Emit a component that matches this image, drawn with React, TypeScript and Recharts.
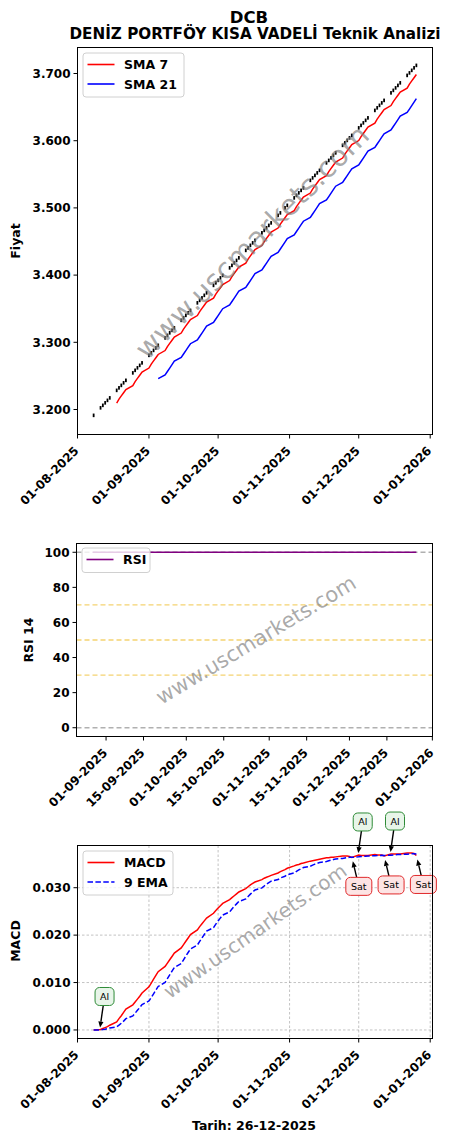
import React from 'react';
import { ComposedChart, LineChart, Line, XAxis, YAxis, CartesianGrid, ReferenceLine, ReferenceDot } from 'recharts';

// işlem günleri (29-10 resmi tatil)
const DATES = [
  '2025-08-08',
  '2025-08-11', '2025-08-12', '2025-08-13', '2025-08-14', '2025-08-15',
  '2025-08-18', '2025-08-19', '2025-08-20', '2025-08-21', '2025-08-22',
  '2025-08-25', '2025-08-26', '2025-08-27', '2025-08-28', '2025-08-29',
  '2025-09-01', '2025-09-02', '2025-09-03', '2025-09-04', '2025-09-05',
  '2025-09-08', '2025-09-09', '2025-09-10', '2025-09-11', '2025-09-12',
  '2025-09-15', '2025-09-16', '2025-09-17', '2025-09-18', '2025-09-19',
  '2025-09-22', '2025-09-23', '2025-09-24', '2025-09-25', '2025-09-26',
  '2025-09-29', '2025-09-30', '2025-10-01', '2025-10-02', '2025-10-03',
  '2025-10-06', '2025-10-07', '2025-10-08', '2025-10-09', '2025-10-10',
  '2025-10-13', '2025-10-14', '2025-10-15', '2025-10-16', '2025-10-17',
  '2025-10-20', '2025-10-21', '2025-10-22', '2025-10-23', '2025-10-24',
  '2025-10-27', '2025-10-28', '2025-10-30', '2025-10-31',
  '2025-11-03', '2025-11-04', '2025-11-05', '2025-11-06', '2025-11-07',
  '2025-11-10', '2025-11-11', '2025-11-12', '2025-11-13', '2025-11-14',
  '2025-11-17', '2025-11-18', '2025-11-19', '2025-11-20', '2025-11-21',
  '2025-11-24', '2025-11-25', '2025-11-26', '2025-11-27', '2025-11-28',
  '2025-12-01', '2025-12-02', '2025-12-03', '2025-12-04', '2025-12-05',
  '2025-12-08', '2025-12-09', '2025-12-10', '2025-12-11', '2025-12-12',
  '2025-12-15', '2025-12-16', '2025-12-17', '2025-12-18', '2025-12-19',
  '2025-12-22', '2025-12-23', '2025-12-24', '2025-12-25', '2025-12-26',
];

const PRICE = [
  3.1910,
  3.2022, 3.2059, 3.2096, 3.2133, 3.2170,
  3.2282, 3.2319, 3.2356, 3.2394, 3.2431,
  3.2542, 3.2580, 3.2617, 3.2654, 3.2691,
  3.2803, 3.2840, 3.2877, 3.2914, 3.2952,
  3.3063, 3.3100, 3.3138, 3.3175, 3.3212,
  3.3324, 3.3361, 3.3398, 3.3435, 3.3472,
  3.3584, 3.3621, 3.3658, 3.3696, 3.3733,
  3.3844, 3.3882, 3.3919, 3.3956, 3.3993,
  3.4105, 3.4142, 3.4179, 3.4216, 3.4254,
  3.4365, 3.4402, 3.4440, 3.4477, 3.4514,
  3.4626, 3.4663, 3.4700, 3.4737, 3.4774,
  3.4886, 3.4923, 3.4998, 3.5035,
  3.5146, 3.5184, 3.5221, 3.5258, 3.5295,
  3.5407, 3.5444, 3.5481, 3.5518, 3.5556,
  3.5667, 3.5704, 3.5742, 3.5779, 3.5816,
  3.5928, 3.5965, 3.6002, 3.6039, 3.6076,
  3.6188, 3.6225, 3.6262, 3.6300, 3.6337,
  3.6448, 3.6486, 3.6523, 3.6560, 3.6597,
  3.6709, 3.6746, 3.6783, 3.6820, 3.6858,
  3.6969, 3.7006, 3.7044, 3.7081, 3.7118,
];

const SMA7 = [
  null, null, null, null, null, null,
  3.2096, 3.2154, 3.2202, 3.2250, 3.2298,
  3.2356, 3.2415, 3.2463, 3.2510, 3.2558,
  3.2617, 3.2675, 3.2723, 3.2770, 3.2819,
  3.2877, 3.2935, 3.2984, 3.3031, 3.3079,
  3.3138, 3.3196, 3.3244, 3.3291, 3.3339,
  3.3398, 3.3456, 3.3504, 3.3552, 3.3600,
  3.3658, 3.3717, 3.3765, 3.3812, 3.3860,
  3.3919, 3.3977, 3.4025, 3.4072, 3.4121,
  3.4179, 3.4237, 3.4286, 3.4333, 3.4381,
  3.4440, 3.4498, 3.4546, 3.4593, 3.4641,
  3.4700, 3.4758, 3.4854, 3.4902,
  3.4960, 3.5019, 3.5067, 3.5114, 3.5162,
  3.5221, 3.5279, 3.5327, 3.5374, 3.5423,
  3.5481, 3.5539, 3.5588, 3.5635, 3.5683,
  3.5742, 3.5800, 3.5848, 3.5895, 3.5943,
  3.6002, 3.6060, 3.6108, 3.6156, 3.6204,
  3.6262, 3.6321, 3.6369, 3.6416, 3.6464,
  3.6523, 3.6581, 3.6629, 3.6676, 3.6725,
  3.6783, 3.6841, 3.6890, 3.6937, 3.6985,
];

const SMA21 = [
  null, null, null, null, null, null, null, null, null, null,
  null, null, null, null, null, null, null, null, null, null,
  3.2459,
  3.2514, 3.2565, 3.2617, 3.2668, 3.2719,
  3.2775, 3.2826, 3.2877, 3.2928, 3.2979,
  3.3035, 3.3086, 3.3137, 3.3189, 3.3240,
  3.3295, 3.3347, 3.3398, 3.3449, 3.3500,
  3.3556, 3.3607, 3.3658, 3.3709, 3.3761,
  3.3816, 3.3867, 3.3919, 3.3970, 3.4021,
  3.4077, 3.4128, 3.4179, 3.4230, 3.4281,
  3.4337, 3.4388, 3.4491, 3.4542,
  3.4597, 3.4649, 3.4700, 3.4751, 3.4802,
  3.4858, 3.4909, 3.4960, 3.5011, 3.5063,
  3.5118, 3.5169, 3.5221, 3.5272, 3.5323,
  3.5379, 3.5430, 3.5481, 3.5532, 3.5583,
  3.5639, 3.5690, 3.5741, 3.5793, 3.5844,
  3.5899, 3.5951, 3.6002, 3.6053, 3.6104,
  3.6160, 3.6211, 3.6262, 3.6313, 3.6365,
  3.6420, 3.6471, 3.6523, 3.6574, 3.6625,
];

const RSI = [
  null, null, null, null, null, null, null, null, null, null, null, null, null,
  100, 100, 100, 100, 100, 100, 100, 100, 100, 100, 100, 100, 100, 100, 100,
  100, 100, 100, 100, 100, 100, 100, 100, 100, 100, 100, 100, 100, 100, 100,
  100, 100, 100, 100, 100, 100, 100, 100, 100, 100, 100, 100, 100, 100, 100,
  100, 100, 100, 100, 100, 100, 100, 100, 100, 100, 100, 100, 100, 100, 100,
  100, 100, 100, 100, 100, 100, 100, 100, 100, 100, 100, 100, 100, 100, 100,
  100, 100, 100, 100, 100, 100, 100, 100, 100, 100, 100, 100,
];

const MACD = [
  0.0000, 0.0001, 0.0003, 0.0005, 0.0007, 0.0010,
  0.0017, 0.0024, 0.0030, 0.0037, 0.0044,
  0.0053, 0.0059, 0.0065, 0.0071, 0.0078,
  0.0091, 0.0099, 0.0107, 0.0115, 0.0123,
  0.0134, 0.0141, 0.0148, 0.0155, 0.0162,
  0.0173, 0.0180, 0.0187, 0.0194, 0.0201,
  0.0211, 0.0218, 0.0224, 0.0230, 0.0236,
  0.0246, 0.0252, 0.0257, 0.0262, 0.0267,
  0.0275, 0.0279, 0.0283, 0.0287, 0.0291,
  0.0298, 0.0302, 0.0306, 0.0309, 0.0312,
  0.0317, 0.0320, 0.0322, 0.0324, 0.0326,
  0.0331, 0.0334, 0.0338, 0.0341,
  0.0346, 0.0348, 0.0349, 0.0351, 0.0352,
  0.0356, 0.0357, 0.0358, 0.0359, 0.0360,
  0.0363, 0.0363, 0.0364, 0.0364, 0.0365,
  0.0367, 0.0367, 0.0367, 0.0366, 0.0364,
  0.0369, 0.0368, 0.0368, 0.0368, 0.0368,
  0.0370, 0.0369, 0.0369, 0.0369, 0.0367,
  0.0371, 0.0371, 0.0371, 0.0371, 0.0371,
  0.0373, 0.0373, 0.0373, 0.0372, 0.0368,
];

const SIGNAL = [
  0.00000, 0.00002, 0.00008, 0.00016, 0.00027, 0.00042,
  0.00067, 0.00102, 0.00141, 0.00187, 0.00238,
  0.00296, 0.00355, 0.00414, 0.00473, 0.00535,
  0.00610, 0.00686, 0.00763, 0.00840, 0.00918,
  0.01003, 0.01084, 0.01163, 0.01241, 0.01317,
  0.01399, 0.01479, 0.01558, 0.01634, 0.01709,
  0.01789, 0.01868, 0.01942, 0.02014, 0.02083,
  0.02158, 0.02231, 0.02299, 0.02363, 0.02424,
  0.02489, 0.02550, 0.02606, 0.02659, 0.02709,
  0.02763, 0.02814, 0.02864, 0.02909, 0.02951,
  0.02995, 0.03036, 0.03073, 0.03106, 0.03137,
  0.03172, 0.03205, 0.03240, 0.03274,
  0.03311, 0.03345, 0.03374, 0.03401, 0.03425,
  0.03452, 0.03476, 0.03497, 0.03515, 0.03532,
  0.03552, 0.03567, 0.03582, 0.03594, 0.03605,
  0.03618, 0.03628, 0.03637, 0.03641, 0.03641,
  0.03651, 0.03657, 0.03661, 0.03665, 0.03668,
  0.03674, 0.03678, 0.03680, 0.03682, 0.03680,
  0.03686, 0.03691, 0.03695, 0.03698, 0.03700,
  0.03706, 0.03711, 0.03715, 0.03716, 0.03709,
];

const AL_DATES = ['2025-08-11', '2025-12-01', '2025-12-15'];
const SAT_DATES = ['2025-11-28', '2025-12-12', '2025-12-26'];

const MONTH_TICKS = ['2025-08-01', '2025-09-01', '2025-10-01', '2025-11-01', '2025-12-01', '2026-01-01'];
const RSI_DATE_TICKS = [
  '2025-09-01', '2025-09-15', '2025-10-01', '2025-10-15', '2025-11-01',
  '2025-11-15', '2025-12-01', '2025-12-15', '2026-01-01',
];
const PRICE_TICKS = [3.2, 3.3, 3.4, 3.5, 3.6, 3.7];
const RSI_TICKS = [0, 20, 40, 60, 80, 100];
const RSI_LEVELS = [70, 50, 30];
const MACD_TICKS = [0, 0.01, 0.02, 0.03];

const FONT = 'DejaVu Sans';
const DAY = 86400000;
const toT = (s: string) => Date.UTC(+s.slice(0, 4), +s.slice(5, 7) - 1, +s.slice(8, 10));

const fmtDate = (t: number) => {
  const d = new Date(t);
  const dd = String(d.getUTCDate()).padStart(2, '0');
  const mm = String(d.getUTCMonth() + 1).padStart(2, '0');
  return `${dd}-${mm}-${d.getUTCFullYear()}`;
};

const rows = DATES.map((d, i) => ({
  t: toT(d),
  price: PRICE[i],
  sma7: SMA7[i],
  sma21: SMA21[i],
  rsi: RSI[i],
  macd: MACD[i],
  signal: SIGNAL[i],
}));

const mainDomain = [toT('2025-08-01'), toT('2026-01-02')];
const rsiDomain = [toT('2025-08-27') - 6.05 * DAY, toT('2025-12-26') + 6.05 * DAY];

const DateTick = (props: any) => {
  const { x, y, payload } = props;
  return (
    <g transform={`translate(${x + 2},${y + 13})`}>
      <text x={0} y={0} textAnchor="end" transform="rotate(-45)" fontSize={12} fontWeight="bold" fontFamily={FONT} fill="#000">
        {fmtDate(payload.value)}
      </text>
    </g>
  );
};

const yTick = { fontSize: 12, fontWeight: 'bold', fill: '#000', fontFamily: FONT };

const PriceMark = (props: any) => {
  const { cx, cy, index } = props;
  if (cx == null || cy == null || isNaN(cy)) return <g key={index} />;
  return <rect key={index} x={cx - 0.9} y={cy - 2} width={1.8} height={3.6} fill="#000" />;
};

const Annot = ({ cx, cy, kind }: { cx: number; cy: number; kind: string }) => {
  const al = kind === 'Al';
  const bx = cx + (al ? 4 : 7);
  const by = cy + (al ? -33 : 29);
  const w = al ? 19 : 26;
  const h = 18;
  const tipX = cx + (al ? -0.5 : 1);
  const tipY = cy + (al ? -2 : 4);
  const dx = tipX - bx;
  const dy = tipY - by;
  const k = h / 2 / Math.abs(dy);
  const sx = bx + dx * k;
  const sy = by + dy * k;
  const len = Math.hypot(tipX - sx, tipY - sy);
  const ux = (tipX - sx) / len;
  const uy = (tipY - sy) / len;
  const hl = 6;
  const hw = 2.6;
  const baseX = tipX - ux * hl;
  const baseY = tipY - uy * hl;
  const pts = `${tipX},${tipY} ${baseX - uy * hw},${baseY + ux * hw} ${baseX + uy * hw},${baseY - ux * hw}`;
  return (
    <g>
      <line x1={sx} y1={sy} x2={baseX} y2={baseY} stroke="#000" strokeWidth={1.4} />
      <polygon points={pts} fill="#000" />
      <rect
        x={bx - w / 2}
        y={by - h / 2}
        width={w}
        height={h}
        rx={4.5}
        fill={al ? '#e8f5e9' : '#fde4e4'}
        stroke={al ? '#2e8b37' : '#e0282a'}
        strokeWidth={1}
      />
      <text x={bx} y={by} textAnchor="middle" dominantBaseline="central" fontSize={9.5} fontFamily={FONT} fill="#000">
        {kind}
      </text>
    </g>
  );
};

const macdAt = (d: string) => MACD[DATES.indexOf(d)];

const Legend = ({ x, y, w, items }: { x: number; y: number; w: number; items: { label: string; color: string; dash?: string }[] }) => (
  <g>
    <rect x={x} y={y} width={w} height={items.length * 19.5 + 5} rx={3} fill="#fff" fillOpacity={0.8} stroke="#d0d0d0" />
    {items.map((it, i) => {
      const cy = y + 11.5 + i * 19.5;
      return (
        <g key={it.label}>
          <line x1={x + 4.5} x2={x + 31.5} y1={cy} y2={cy} stroke={it.color} strokeWidth={1.6} strokeDasharray={it.dash} />
          <text x={x + 41} y={cy} dominantBaseline="central" fontSize={12.5} fontWeight="bold" fontFamily={FONT} fill="#000">
            {it.label}
          </text>
        </g>
      );
    })}
  </g>
);

const Watermark = ({ x, y, angle, size }: { x: number; y: number; angle: number; size: number }) => (
  <text
    x={x}
    y={y}
    textAnchor="middle"
    dominantBaseline="central"
    fontSize={size}
    fontFamily={FONT}
    fill="#808080"
    fillOpacity={0.68}
    transform={`rotate(${-angle} ${x} ${y})`}
  >
    www.uscmarkets.com
  </text>
);

export default function App() {
  return (
    <div style={{ position: 'absolute', left: 0, top: 0, width: 451, height: 1142, background: '#fff', overflow: 'hidden' }}>
      {/* fiyat + SMA */}
      <div style={{ position: 'absolute', left: 0, top: 0 }}>
        <ComposedChart width={451} height={520} data={rows} margin={{ top: 47.5, right: 18.5, bottom: 0, left: 0 }}>
          <XAxis
            dataKey="t"
            type="number"
            domain={mainDomain}
            ticks={MONTH_TICKS.map(toT)}
            interval={0}
            allowDataOverflow
            axisLine={false}
            tickLine={{ stroke: '#000' }}
            tickSize={4}
            tickMargin={0}
            height={85.5}
            tick={(p: any) => <DateTick {...p} />}
          />
          <YAxis
            type="number"
            domain={[3.1628, 3.7387]}
            ticks={PRICE_TICKS}
            interval={0}
            allowDataOverflow
            width={77.5}
            axisLine={false}
            tickLine={{ stroke: '#000' }}
            tickSize={4}
            tickMargin={3}
            tick={yTick}
            tickFormatter={(v: number) => v.toFixed(3)}
          />
          <Line dataKey="price" stroke="none" dot={(p: any) => <PriceMark {...p} />} activeDot={false} isAnimationActive={false} />
          <Line dataKey="sma7" stroke="#ff0000" strokeWidth={1.5} dot={false} activeDot={false} isAnimationActive={false} />
          <Line dataKey="sma21" stroke="#0000ff" strokeWidth={1.5} dot={false} activeDot={false} isAnimationActive={false} />
        </ComposedChart>
      </div>

      {/* RSI */}
      <div style={{ position: 'absolute', left: 0, top: 520 }}>
        <LineChart width={451} height={290} data={rows} margin={{ top: 23.5, right: 18.5, bottom: 0, left: 0 }}>
          <XAxis
            dataKey="t"
            type="number"
            domain={rsiDomain}
            ticks={RSI_DATE_TICKS.map(toT)}
            interval={0}
            allowDataOverflow
            axisLine={false}
            tickLine={{ stroke: '#000' }}
            tickSize={4}
            tickMargin={0}
            height={73.5}
            tick={(p: any) => <DateTick {...p} />}
          />
          <YAxis
            type="number"
            domain={[-5, 105]}
            ticks={RSI_TICKS}
            interval={0}
            allowDataOverflow
            width={76.5}
            axisLine={false}
            tickLine={{ stroke: '#000' }}
            tickSize={4}
            tickMargin={3}
            tick={yTick}
          />
          <ReferenceLine y={100} stroke="#b0b0b0" strokeWidth={1.4} strokeDasharray="5 3" />
          <ReferenceLine y={0} stroke="#b0b0b0" strokeWidth={1.4} strokeDasharray="5 3" />
          {RSI_LEVELS.map((lv) => (
            <ReferenceLine key={lv} y={lv} stroke="#f0c340" strokeOpacity={0.75} strokeWidth={1.4} strokeDasharray="5 3" />
          ))}
          <Line dataKey="rsi" stroke="#800080" strokeWidth={1.5} dot={false} activeDot={false} isAnimationActive={false} />
        </LineChart>
      </div>

      {/* MACD */}
      <div style={{ position: 'absolute', left: 0, top: 790 }}>
        <LineChart width={451} height={352} data={rows} margin={{ top: 55.5, right: 18.5, bottom: 0, left: 0 }}>
          <CartesianGrid stroke="#9a9a9a" strokeWidth={0.6} strokeDasharray="2.5 2" />
          <XAxis
            dataKey="t"
            type="number"
            domain={mainDomain}
            ticks={MONTH_TICKS.map(toT)}
            interval={0}
            allowDataOverflow
            axisLine={false}
            tickLine={{ stroke: '#000' }}
            tickSize={4}
            tickMargin={0}
            height={103.5}
            tick={(p: any) => <DateTick {...p} />}
          />
          <YAxis
            type="number"
            domain={[-0.0018, 0.0389]}
            ticks={MACD_TICKS}
            interval={0}
            allowDataOverflow
            width={77.5}
            axisLine={false}
            tickLine={{ stroke: '#000' }}
            tickSize={4}
            tickMargin={3}
            tick={yTick}
            tickFormatter={(v: number) => v.toFixed(3)}
          />
          <Line dataKey="macd" stroke="#ff0000" strokeWidth={1.5} dot={false} activeDot={false} isAnimationActive={false} />
          <Line dataKey="signal" stroke="#0000ff" strokeWidth={1.5} strokeDasharray="5.5 2.4" dot={false} activeDot={false} isAnimationActive={false} />
          {AL_DATES.map((d) => (
            <ReferenceDot
              key={'al' + d}
              x={toT(d)}
              y={macdAt(d)}
              r={0}
              ifOverflow="visible"
              shape={(p: any) => <Annot cx={p.cx} cy={p.cy} kind="Al" />}
            />
          ))}
          {SAT_DATES.map((d) => (
            <ReferenceDot
              key={'sat' + d}
              x={toT(d)}
              y={macdAt(d)}
              r={0}
              ifOverflow="visible"
              shape={(p: any) => <Annot cx={p.cx} cy={p.cy} kind="Sat" />}
            />
          ))}
        </LineChart>
      </div>

      <svg width={451} height={1142} style={{ position: 'absolute', left: 0, top: 0, pointerEvents: 'none' }} fontFamily={FONT}>
        <text x={249} y={22.7} textAnchor="middle" fontSize={16.5} fontWeight="bold" fill="#000">DCB</text>
        <text x={255} y={39} textAnchor="middle" fontSize={15.2} fontWeight="bold" fill="#000">DENİZ PORTFÖY KISA VADELİ Teknik Analizi</text>

        <Watermark x={252} y={242} angle={45} size={29} />
        <Watermark x={256} y={640} angle={31} size={21} />
        <Watermark x={255} y={931} angle={35} size={20} />

        <rect x={77.5} y={47.5} width={355} height={387} fill="none" stroke="#000" strokeWidth={1} />
        <rect x={76.5} y={543.5} width={356} height={193} fill="none" stroke="#000" strokeWidth={1} />
        <rect x={77.5} y={845.5} width={355} height={193} fill="none" stroke="#000" strokeWidth={1} />

        <Legend x={83} y={53} w={101} items={[{ label: 'SMA 7', color: '#ff0000' }, { label: 'SMA 21', color: '#0000ff' }]} />
        <Legend x={82} y={548} w={68} items={[{ label: 'RSI', color: '#800080' }]} />
        <Legend x={83} y={851} w={90} items={[{ label: 'MACD', color: '#ff0000' }, { label: '9 EMA', color: '#0000ff', dash: '5.5 2.4' }]} />

        <text transform="translate(15,241) rotate(-90)" textAnchor="middle" dominantBaseline="central" fontSize={12.5} fontWeight="bold" fill="#000">Fiyat</text>
        <text transform="translate(28,640) rotate(-90)" textAnchor="middle" dominantBaseline="central" fontSize={12.5} fontWeight="bold" fill="#000">RSI 14</text>
        <text transform="translate(15,941) rotate(-90)" textAnchor="middle" dominantBaseline="central" fontSize={12.5} fontWeight="bold" fill="#000">MACD</text>
        <text x={254} y={1130} textAnchor="middle" fontSize={12.5} fontWeight="bold" fill="#000">Tarih: 26-12-2025</text>
      </svg>
    </div>
  );
}
